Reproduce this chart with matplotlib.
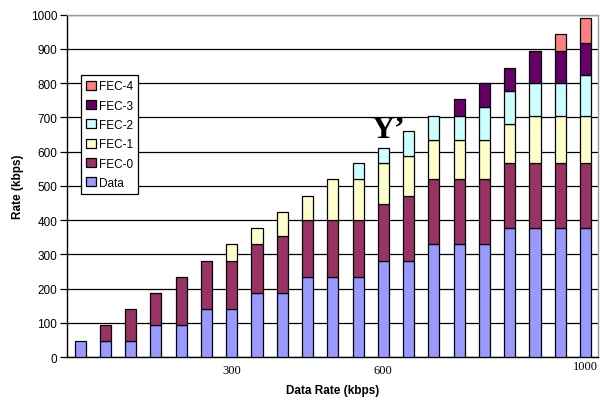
import numpy as np
import matplotlib.pyplot as plt

plt.rcParams['font.family'] = ['Liberation Sans', 'DejaVu Sans']

# Data rate of each bar (kbps)
data_rate = [0, 50, 100, 150, 200, 250, 300, 350, 400, 450, 500,
             550, 600, 650, 700, 750, 800, 850, 900, 950, 1000]

# Rate contributed by each layer (kbps)
data = [47, 47, 47, 94, 94, 141, 141, 188, 188, 235, 235,
        235, 282, 282, 329, 329, 329, 376, 376, 376, 376]
fec0 = [0, 47, 94, 94, 141, 141, 141, 141, 165, 165, 165,
        165, 164, 188, 190, 190, 190, 190, 190, 190, 190]
fec1 = [0, 0, 0, 0, 0, 0, 47, 47, 72, 71, 120,
        120, 120, 118, 115, 115, 115, 115, 139, 139, 139]
fec2 = [0, 0, 0, 0, 0, 0, 0, 0, 0, 0, 0,
        46, 46, 71, 71, 71, 97, 96, 95, 95, 118]
fec3 = [0, 0, 0, 0, 0, 0, 0, 0, 0, 0, 0,
        0, 0, 0, 0, 49, 69, 68, 93, 93, 93]
fec4 = [0, 0, 0, 0, 0, 0, 0, 0, 0, 0, 0,
        0, 0, 0, 0, 0, 0, 0, 0, 51, 73]

layer_names = ['Data', 'FEC-0', 'FEC-1', 'FEC-2', 'FEC-3', 'FEC-4']
layer_colors = ['#9999FF', '#993366', '#FFFFCC', '#CCFFFF', '#660066', '#FF8080']

x_ticks = [300, 600, 1000]

fig = plt.figure(figsize=(6.03, 4.02), dpi=100)
ax = fig.add_axes([0.111, 0.109, 0.881, 0.852])

x = np.array(data_rate)
bottom = np.zeros(len(x))
handles = []
for values, name, color in zip([data, fec0, fec1, fec2, fec3, fec4], layer_names, layer_colors):
    v = np.array(values, dtype=float)
    # skip empty segments so no flat outlines are drawn
    mask = v > 0
    bars = ax.bar(x[mask], v[mask], width=22, bottom=bottom[mask], color=color,
                  edgecolor='black', linewidth=0.9, label=name, zorder=3)
    handles.append(bars)
    bottom += v

ax.set_xlim(-26, 1025)
ax.set_ylim(0, 1000)
ax.set_yticks(np.arange(0, 1001, 100))
ax.yaxis.grid(True, color='black', linewidth=0.9, zorder=0)
ax.set_axisbelow(True)

ax.set_xticks(x_ticks)
ax.set_xticklabels([str(t) for t in x_ticks], family='Liberation Serif', fontsize=9)
ax.tick_params(axis='x', length=0, pad=5)
ax.tick_params(axis='y', length=5, width=0.9, labelsize=8.5, pad=2, direction='out')
# the last label sits a bit higher
ax.get_xticklabels()[-1].set_y(0.012)

for s in ['left', 'bottom']:
    ax.spines[s].set_color('black')
    ax.spines[s].set_linewidth(1.0)
for s in ['top', 'right']:
    ax.spines[s].set_color('#999999')
    ax.spines[s].set_linewidth(1.0)

ax.set_xlabel('Data Rate (kbps)', fontsize=8.5, fontweight='bold', labelpad=6)
ax.set_ylabel('Rate (kbps)', fontsize=8.5, fontweight='bold', labelpad=5)

ax.text(610, 643, 'Y\u2019', family='Liberation Serif', fontsize=23,
        fontweight='bold', ha='center', va='baseline', zorder=5)

leg = ax.legend(handles[::-1], layer_names[::-1], loc='upper left',
                bbox_to_anchor=(0.026, 0.824), fontsize=8.5, frameon=True,
                fancybox=False, edgecolor='black', framealpha=1,
                handlelength=0.8, handleheight=0.8, handletextpad=0.3,
                labelspacing=0.62, borderpad=0.45, borderaxespad=0)
leg.get_frame().set_linewidth(0.9)
leg.set_zorder(6)

fig.savefig('out.png', dpi=100)
